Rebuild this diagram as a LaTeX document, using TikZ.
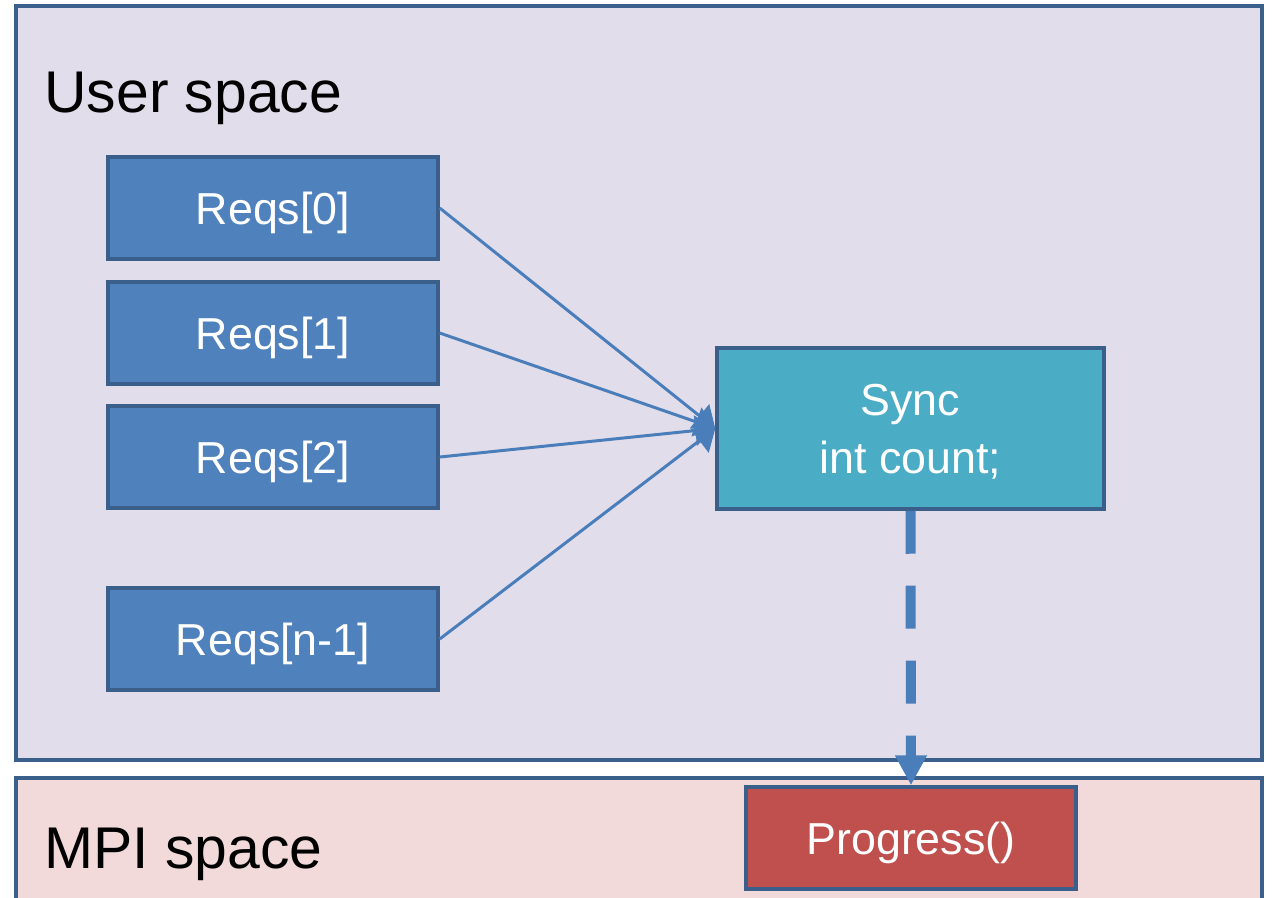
\documentclass[tikz,border=0pt]{standalone}
\usepackage{fontspec}
\setmainfont{Liberation Sans}
\usetikzlibrary{arrows.meta}
\definecolor{frame}{HTML}{3A5F8B}
\definecolor{userbg}{HTML}{E2DDEA}
\definecolor{mpibg}{HTML}{F2DADA}
\definecolor{reqfill}{HTML}{4F81BD}
\definecolor{syncfill}{HTML}{4BACC6}
\definecolor{progfill}{HTML}{C0504D}
\definecolor{arrowc}{HTML}{4A7EBB}
\begin{document}
\begin{tikzpicture}[x=0.02cm,y=-0.02cm,
  reqbox/.style={draw=frame,line width=2pt,fill=reqfill,minimum width=6.6cm,minimum height=2.04cm,inner sep=0pt,text depth=0pt,text=white,font=\fontsize{25.5}{30}\selectfont},
  title/.style={anchor=west,inner sep=0pt,font=\fontsize{33.5}{38}\selectfont},
  thinarrow/.style={draw=arrowc,line width=1.7pt,-{Triangle[length=0.4cm,width=0.6cm]}},
  dasharrow/.style={draw=arrowc,line width=5.7pt,dash pattern=on 0.86cm off 0.64cm,-{Triangle[length=0.6cm,width=0.6cm]}}]
\useasboundingbox (0,0) rectangle (1274,897);
\fill[white] (0,0) rectangle (1274,897);
\begin{scope}
\clip (0,0) rectangle (1274,897);
\draw[frame,fill=userbg,line width=2.3pt] (16,6) rectangle (1262,760);
\draw[frame,fill=mpibg,line width=2.3pt] (16,778) rectangle (1262,920);
\end{scope}
\node[title] (user) at (44,98) {User space};
\node[title] (mpi) at (44,854) {MPI space};
\node[reqbox] (r0) at (273,208) {Reqs[0]};
\node[reqbox] (r1) at (273,333) {Reqs[1]};
\node[reqbox] (r2) at (273,457) {Reqs[2]};
\node[reqbox] (rn) at (273,639) {Reqs[n-1]};
\node[reqbox,fill=syncfill,minimum width=7.74cm,minimum height=3.22cm,align=center,font=\fontsize{25.5}{33}\selectfont] (sync) at (910.5,428.5) {Sync\\int count;};
\node[reqbox,fill=progfill] (prog) at (911,838) {Progress()};
\draw[thinarrow] (r0.east) -- (sync.west);
\draw[thinarrow] (r1.east) -- (sync.west);
\draw[thinarrow] (r2.east) -- (sync.west);
\draw[thinarrow] (rn.east) -- (sync.west);
\draw[dasharrow] (sync.south) -- (prog.north);
\end{tikzpicture}
\end{document}
